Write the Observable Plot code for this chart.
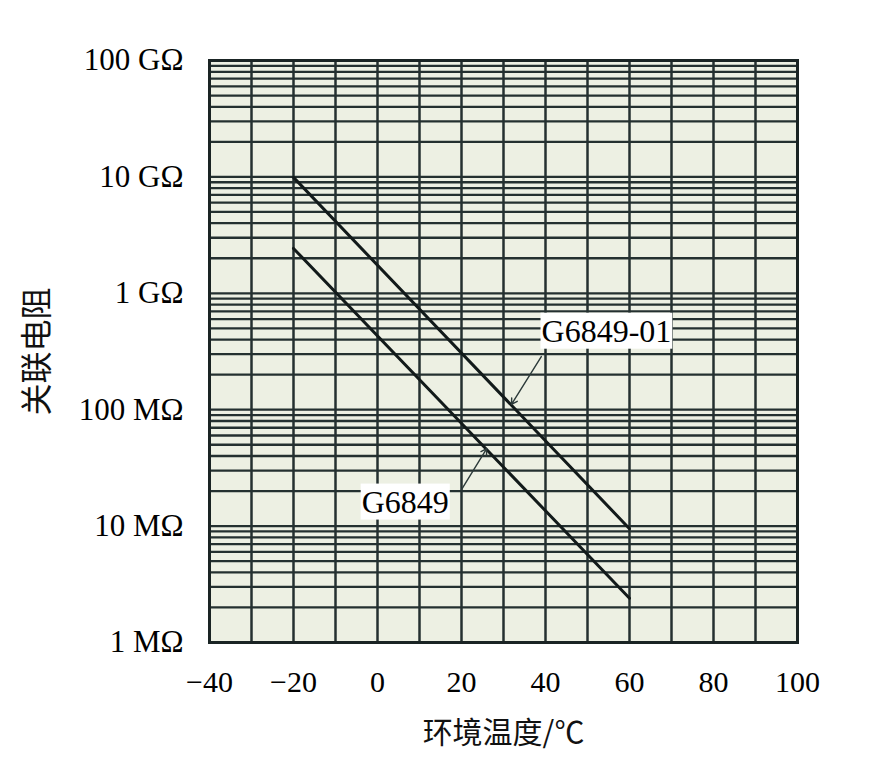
<!DOCTYPE html>
<html>
<head>
<meta charset="utf-8">
<script src="https://cdn.jsdelivr.net/npm/d3@7"></script>
<script src="https://cdn.jsdelivr.net/npm/@observablehq/plot@0.6"></script>
<style>
  body { margin: 0; background: white; }
</style>
</head>
<body>
<div id="chart"></div>
<script>
// ---- data ----
const temps = [-20, 60];                        // °C
const seriesNames = ["G6849-01", "G6849"];
const g684901Values = [9.9e9, 9.5e6];           // Ω
const g6849Values = [2.43e9, 2.4e6];            // Ω

const xTicks = [-40, -20, 0, 20, 40, 60, 80, 100];
const xGrid = [-40, -30, -20, -10, 0, 10, 20, 30, 40, 50, 60, 70, 80, 90, 100];
const yTicks = [1e6, 1e7, 1e8, 1e9, 1e10, 1e11];
const yTickLabels = ["1 MΩ", "10 MΩ", "100 MΩ", "1 GΩ", "10 GΩ", "100 GΩ"];
const yDecades = [6, 7, 8, 9, 10];
const yMantissas = [1, 2, 3, 4, 5, 6, 7, 8, 9];

// annotation: label positions and leader lines (data coordinates)
const labelTemps = [54.5, 6.6];
const labelValues = [4.7e8, 1.6e7];
const leaderFromTemps = [39.0, 20.0];
const leaderFromValues = [2.86e8, 2.06e7];
const leaderToTemps = [31.9, 26.0];
const leaderToValues = [1.11e8, 4.64e7];

const yTitle = "关联电阻";
const xTitle = "环境温度/℃";

// ---- tables ----
const seriesValues = [g684901Values, g6849Values];
const lineData = seriesNames.flatMap((s, k) =>
  temps.map((t, i) => ({series: s, temp: t, value: seriesValues[k][i]})));
const yGrid = yDecades.flatMap(d => yMantissas.map(m => m * 10 ** d)).concat([1e11]);
const labels = seriesNames.map((s, i) => ({text: s, temp: labelTemps[i], value: labelValues[i]}));
const leaders = seriesNames.map((s, i) => ({
  x1: leaderFromTemps[i], y1: leaderFromValues[i], x2: leaderToTemps[i], y2: leaderToValues[i]
}));

const gridColor = "#243030";
const serif = "Liberation Serif";
const cjk = "Noto Sans CJK SC";

const chart = Plot.plot({
  width: 886,
  height: 757,
  marginLeft: 209,
  marginRight: 89,
  marginTop: 60,
  marginBottom: 115,
  style: {background: "white", fontFamily: serif, color: "black"},
  x: {domain: [-40, 100]},
  y: {type: "log", domain: [1e6, 1e11]},
  marks: [
    Plot.frame({fill: "#edf0e3", stroke: null}),
    Plot.ruleX(xGrid, {stroke: gridColor, strokeWidth: 2.5}),
    Plot.ruleY(yGrid, {stroke: gridColor, strokeWidth: 2.3}),
    Plot.frame({stroke: "#1a2424", strokeWidth: 3}),
    Plot.line(lineData, {x: "temp", y: "value", z: "series", stroke: "#121a1a", strokeWidth: 3}),
    Plot.arrow(leaders, {x1: "x1", y1: "y1", x2: "x2", y2: "y2", stroke: "#2c3a3a", strokeWidth: 1.4, headLength: 7}),
    Plot.text(labels, {x: "temp", y: "value", text: "text", fontSize: 32, fontFamily: serif, fill: "black"}),
    Plot.axisX({ticks: xTicks, tickSize: 0, tickPadding: 28, fontSize: 30, fontFamily: serif, label: null}),
    Plot.axisY({ticks: yTicks, tickFormat: d => yTickLabels[Math.round(Math.log10(d)) - 6],
      tickSize: 0, tickPadding: 26, fontSize: 31, fontFamily: serif, label: null}),
    Plot.text([yTitle], {frameAnchor: "left", textAnchor: "middle", lineAnchor: "middle",
      dx: -172, rotate: -90, fontSize: 32, fontFamily: cjk, fill: "#111"}),
    Plot.text([xTitle], {frameAnchor: "bottom", textAnchor: "middle", lineAnchor: "middle",
      dy: 91, fontSize: 30, fontFamily: cjk, fill: "#111"})
  ]
});

document.getElementById("chart").appendChild(chart);

// force serif font on axis tick labels and series labels
chart.querySelectorAll('g[aria-label="x-axis tick label"], g[aria-label="y-axis tick label"]')
  .forEach(g => g.setAttribute("font-family", serif));

// white boxes behind the series labels
chart.querySelectorAll("text").forEach(t => {
  if (!seriesNames.includes(t.textContent)) return;
  t.setAttribute("font-family", serif);
  const b = t.getBBox();
  const r = document.createElementNS("http://www.w3.org/2000/svg", "rect");
  r.setAttribute("x", b.x - 1);
  r.setAttribute("y", b.y);
  r.setAttribute("width", b.width + 2);
  r.setAttribute("height", b.height);
  r.setAttribute("fill", "white");
  const tr = t.getAttribute("transform");
  if (tr) r.setAttribute("transform", tr);
  t.parentNode.insertBefore(r, t);
});
</script>
</body>
</html>
